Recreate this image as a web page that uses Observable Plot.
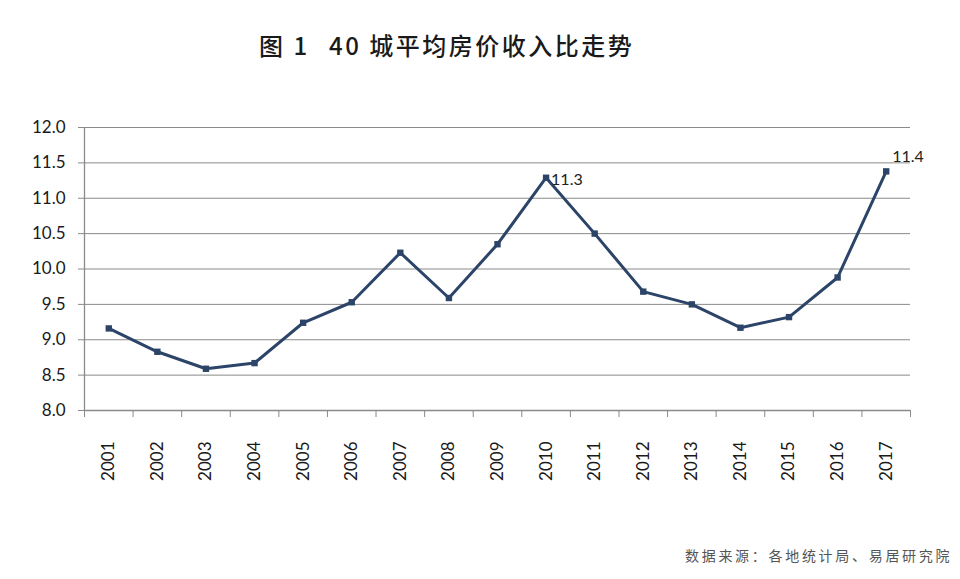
<!DOCTYPE html>
<html>
<head>
<meta charset="utf-8">
<script src="https://cdn.jsdelivr.net/npm/d3@7"></script>
<script src="https://cdn.jsdelivr.net/npm/@observablehq/plot@0.6"></script>
<style>
  html, body { margin: 0; padding: 0; background: #fff; }
  #wrap { position: relative; width: 960px; height: 579px; overflow: hidden; }
  #title { position: relative; height: 100px; }
  #title span { position: absolute; top: 27px; font-family: "Noto Sans CJK SC", sans-serif; font-size: 24px; font-weight: 500; color: #1a1a1a; letter-spacing: 2.5px; white-space: nowrap; }
  #chart { height: 440px; }
  #chart svg { display: block; }
  #caption { position: relative; height: 39px; }
  #caption span { position: absolute; left: 685px; top: 5px; font-family: "Noto Sans CJK SC", sans-serif; font-size: 14px; color: #555; letter-spacing: 2.7px; white-space: nowrap; }
</style>
</head>
<body>
<div id="wrap">
  <div id="title"><span style="left:259px">图 1</span><span style="left:329px">40 城平均房价收入比走势</span></div>
  <div id="chart"></div>
  <div id="caption"><span>数据来源：各地统计局、易居研究院</span></div>
</div>
<script>
const years = [2001, 2002, 2003, 2004, 2005, 2006, 2007, 2008, 2009, 2010, 2011, 2012, 2013, 2014, 2015, 2016, 2017];
const ratios = [9.16, 8.83, 8.59, 8.67, 9.24, 9.53, 10.23, 9.59, 10.35, 11.29, 10.50, 9.68, 9.50, 9.17, 9.32, 9.88, 11.38];
const yTicks = [8.0, 8.5, 9.0, 9.5, 10.0, 10.5, 11.0, 11.5, 12.0];
const labelYears = [2010, 2017];
const labelTexts = ["11.3", "11.4"];

const data = years.map((y, i) => ({year: y, value: ratios[i]}));
const labels = labelYears.map((y, i) => ({year: y, value: ratios[years.indexOf(y)], text: labelTexts[i]}));
const boundaries = [years[0] - 0.5, ...years.map(y => y + 0.5)];

const gray = "#8a8a8a";
const navy = "#2b4468";

const chart = Plot.plot({
  width: 960,
  height: 440,
  marginTop: 27,
  marginBottom: 130,
  marginLeft: 84,
  marginRight: 50,
  style: {fontFamily: "Lato, 'Open Sans', sans-serif", fontSize: "17px", color: "#1a1a1a", background: "transparent"},
  x: {domain: [years[0] - 0.5, years[years.length - 1] + 0.5]},
  y: {domain: [8, 12]},
  marks: [
    Plot.ruleY(yTicks.slice(1), {stroke: gray, strokeWidth: 1, strokeOpacity: 1}),
    Plot.ruleY([8], {stroke: gray, strokeWidth: 1.3}),
    Plot.ruleX([years[0] - 0.5], {stroke: gray, strokeWidth: 1.3}),
    Plot.axisY({ticks: yTicks, tickSize: 6, tickPadding: 13, tickFormat: d3.format(".1f"), stroke: gray, label: null, fontSize: 17}),
    Plot.axisX({ticks: boundaries, tickSize: 7, tickFormat: () => "", stroke: gray, label: null}),
    Plot.axisX({ticks: years, tickSize: 0, tickPadding: 31, tickRotate: -90, tickFormat: d => String(d), label: null, fontSize: 17}),
    Plot.line(data, {x: "year", y: "value", stroke: navy, strokeWidth: 3}),
    Plot.dot(data, {x: "year", y: "value", symbol: "square", r: 3.6, fill: navy, stroke: "none"}),
    Plot.text(labels.slice(0, 1), {x: "year", y: "value", text: "text", textAnchor: "start", dx: 5, dy: 2, fill: "#222", fontSize: 16}),
    Plot.text(labels.slice(1), {x: "year", y: "value", text: "text", textAnchor: "start", dx: 6, dy: -14, fill: "#222", fontSize: 16})
  ]
});
document.getElementById("chart").appendChild(chart);
</script>
</body>
</html>
